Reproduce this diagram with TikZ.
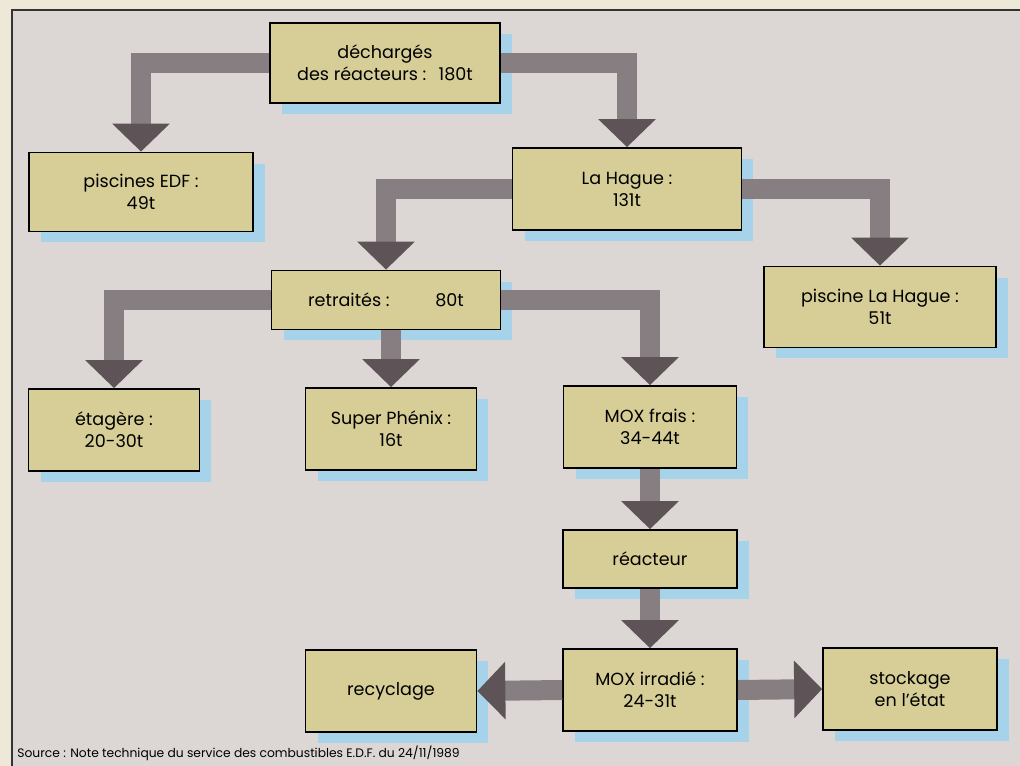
\documentclass[tikz,border=0pt]{standalone}
\usepackage{fontspec}
\setmainfont{Poppins}
\usetikzlibrary{arrows.meta,shadows}
\definecolor{paper}{HTML}{EEE8D8}
\definecolor{panel}{HTML}{DCD7D5}
\definecolor{boxfill}{HTML}{D6CE96}
\definecolor{shadowblue}{HTML}{A6D3EA}
\definecolor{flowgray}{HTML}{877E82}
\definecolor{flowdark}{HTML}{5E5457}
\tikzset{
  box/.style={draw=black, line width=1pt, fill=boxfill, align=center,
    font=\fontsize{10}{12.5}\selectfont, inner sep=2pt,
    drop shadow={shadow xshift=0.24cm, shadow yshift=-0.22cm, fill=shadowblue, opacity=1}},
  flow/.style={line width=0.4cm, draw=flowgray,
    -{Triangle[width=1.12cm,length=0.56cm,color=flowdark]}}
}

\begin{document}
\begin{tikzpicture}[x=0.02cm, y=-0.02cm]
			\useasboundingbox (0,0) rectangle (1020,766);
			\fill[paper] (0,0) rectangle (1020,766);
			\fill[panel] (12,10) rectangle (1020,766);
			\draw[line width=0.8pt, color=black!80] (12,766) -- (12,10) -- (1020,10);
			% boxes
			\node[box, minimum width=4.6cm, minimum height=1.6cm] (dech) at (385,63) {déchargés\\des réacteurs :\hspace{0.7em}180t};
			\node[box, minimum width=4.48cm, minimum height=1.58cm] (edf) at (141,192) {piscines EDF :\\49t};
			\node[box, minimum width=4.58cm, minimum height=1.64cm] (hague) at (627,189) {La Hague :\\131t};
			\node[box, minimum width=4.58cm, minimum height=1.18cm] (retr) at (386,300) {retraités :\hspace{2.6em}80t};
			\node[box, minimum width=4.64cm, minimum height=1.62cm] (phague) at (880,307) {piscine La Hague :\\51t};
			\node[box, minimum width=3.42cm, minimum height=1.64cm] (etag) at (114,430) {étagère :\\20-30t};
			\node[box, minimum width=3.42cm, minimum height=1.64cm] (sphenix) at (391,429) {Super Phénix :\\16t};
			\node[box, minimum width=3.46cm, minimum height=1.64cm] (moxf) at (650,427) {MOX frais :\\34-44t};
			\node[box, minimum width=3.48cm, minimum height=1.16cm] (reac) at (650,559) {réacteur};
			\node[box, minimum width=3.48cm, minimum height=1.64cm] (moxi) at (650,690) {MOX irradié :\\24-31t};
			\node[box, minimum width=3.48cm, minimum height=1.64cm] (stock) at (910,689) {stockage\\en l'état};
			\node[box, minimum width=3.42cm, minimum height=1.64cm] (recy) at (391,691) {recyclage};
			% flows
			\draw[flow] (dech.west) -| (edf.north);
			\draw[flow] (dech.east) -| (hague.north);
			\draw[flow] (hague.west) -| (retr.north);
			\draw[flow] (hague.east) -| (phague.north);
			\draw[flow] (retr.west) -| (etag.north);
			\draw[flow] (retr.south -| sphenix.north) -- (sphenix.north);
			\draw[flow] (retr.east) -| (moxf.north);
			\draw[flow] (moxf.south) -- (reac.north);
			\draw[flow] (reac.south) -- (moxi.north);
			\draw[flow] (moxi.east) -- (stock.west);
			\draw[flow] (moxi.west) -- (recy.east);
			\node[anchor=base west, inner sep=0pt, font=\fontsize{7}{9}\selectfont] (src) at (17,757) {Source : Note technique du service des combustibles E.D.F. du 24/11/1989};
		\end{tikzpicture}
\end{document}
